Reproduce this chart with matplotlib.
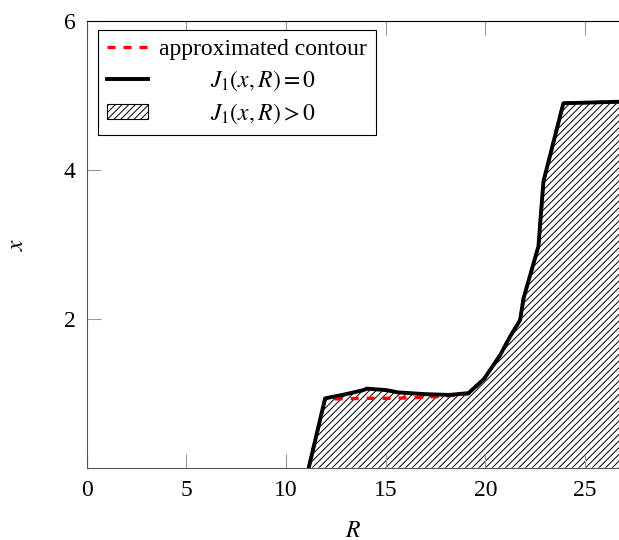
import matplotlib
matplotlib.use("Agg")
import matplotlib.pyplot as plt
from matplotlib.patches import Patch
from matplotlib.lines import Line2D

plt.rcParams['font.family'] = ['Liberation Serif', 'DejaVu Serif']
plt.rcParams['mathtext.fontset'] = 'stix'
plt.rcParams['hatch.linewidth'] = 0.7

# Boundary J1(x,R)=0
R_contour = [11.14, 11.96, 12.9, 13.88, 14.05, 15.05, 15.6, 17.06, 18.2, 19.15, 19.93, 20.74, 21.24, 21.74, 21.91, 22.66, 22.91, 23.91, 26.7]
x_contour = [0.0, 0.93, 0.98, 1.04, 1.06, 1.04, 1.01, 0.985, 0.976, 1.0, 1.19, 1.51, 1.76, 1.98, 2.27, 2.97, 3.84, 4.89, 4.91]

# Approximated contour
R_approx = [11.14, 11.96, 13.0, 14.0, 15.0, 16.0, 17.0, 18.0, 19.15, 19.93, 20.74, 21.24, 21.74, 21.91, 22.66, 22.91, 23.91, 26.7]
x_approx = [0.0, 0.92, 0.925, 0.93, 0.93, 0.935, 0.945, 0.96, 0.99, 1.19, 1.51, 1.76, 1.98, 2.27, 2.97, 3.84, 4.89, 4.91]

x_ticks = [0, 5, 10, 15, 20, 25]
y_ticks = [2, 4, 6]

FS = 17

fig = plt.figure(figsize=(6.19, 5.40), dpi=100)
ax = fig.add_axes([0.140, 0.134, 0.860, 0.828])

ax.fill_between(R_contour, 0, x_contour, facecolor='none', edgecolor='black',
                hatch='/////', linewidth=0)
ax.plot(R_approx, x_approx, color='red', linestyle=(0, (2.4, 2.4)), linewidth=2.4)
ax.plot(R_contour, x_contour, color='black', linewidth=2.8)

ax.set_xlim(0, 26.7)
ax.set_ylim(0, 6)
ax.set_xticks(x_ticks)
ax.set_yticks(y_ticks)
ax.tick_params(axis='both', direction='in', length=10, width=0.8, color='#999999',
               labelsize=FS, pad=8)
ax.tick_params(axis='x', top=True, pad=9)
ax.spines['right'].set_visible(False)
for s in ['left', 'bottom']:
    ax.spines[s].set_color('#555555')
ax.spines['top'].set_color('black')

ax.set_xlabel('$R$', fontsize=FS, labelpad=14)
ax.set_ylabel('$x$', fontsize=FS, labelpad=26)

handles = [
    Line2D([0], [0], color='red', linestyle=(0, (2.4, 2.4)), linewidth=2.4),
    Line2D([0], [0], color='black', linewidth=2.8),
    Patch(facecolor='none', edgecolor='black', hatch='/////', linewidth=0.8),
]
labels = ['approximated contour', '$J_1(x,R)=0$', '$J_1(x,R)>0$']
leg = ax.legend(handles, labels, loc='upper left', bbox_to_anchor=(0.0207, 0.979),
                borderaxespad=0,
                fontsize=FS, frameon=True, fancybox=False, edgecolor='black',
                framealpha=1, handlelength=1.75, handleheight=0.6,
                borderpad=0.4, labelspacing=0.35, handletextpad=0.45)
leg.get_frame().set_linewidth(0.8)

# center labels within the text column
texts = leg.get_texts()
fig.canvas.draw()
r = fig.canvas.get_renderer()
widths = [t.get_window_extent(r).width for t in texts]
wmax = max(widths)
for t, w in zip(texts, widths):
    t.set_x((wmax - w) / 2)

fig.savefig('out.png', dpi=100)
